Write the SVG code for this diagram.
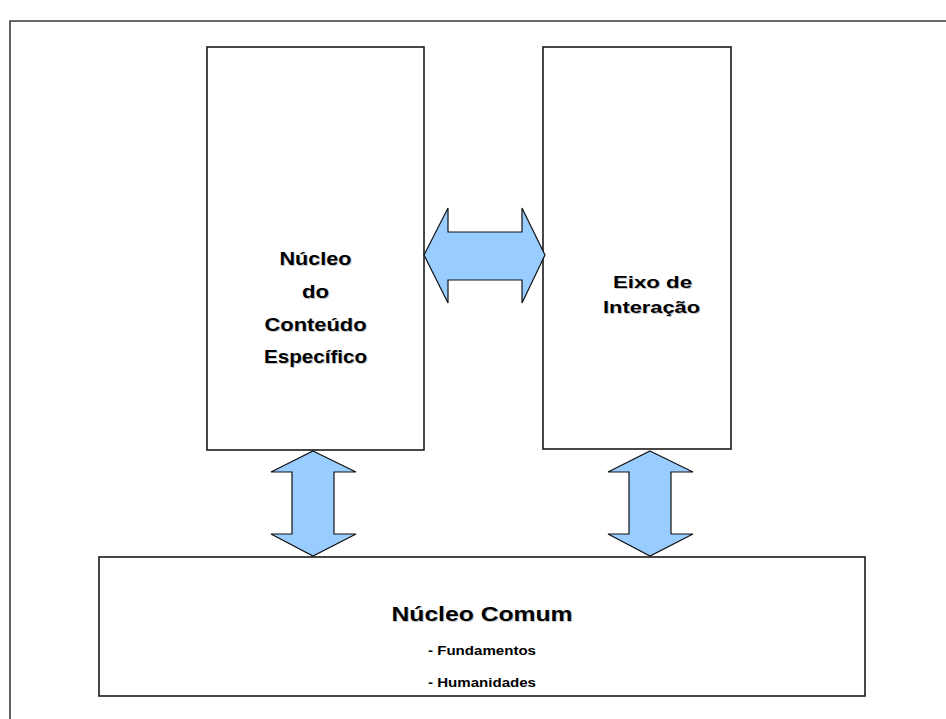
<svg xmlns="http://www.w3.org/2000/svg" width="946" height="719" viewBox="0 0 946 719">
  <style>
    .frame { fill: none; stroke: #3a3a3a; stroke-width: 1.6; }
    .box { fill: #ffffff; stroke: #1a1a1a; stroke-width: 1.6; }
    .arrow { fill: #99ccff; stroke: #111111; stroke-width: 1.2; stroke-linejoin: miter; }
    .lbl { font-family: "Liberation Sans", Arial, sans-serif; font-weight: bold; fill: #000000; text-anchor: middle; }
    .shadow { fill: #c4c4c4; }
  </style>
  <rect width="946" height="719" fill="#ffffff"/>

  <!-- page frame: only top and left edges fall inside the view -->
  <path class="frame" d="M 10 719 L 10 21 L 946 21"/>

  <g id="nucleo-especifico">
    <rect class="box" x="207" y="47" width="217" height="403"/>
    <g class="lbl" font-size="18">
      <text class="shadow" x="316.5" y="266" textLength="72" lengthAdjust="spacingAndGlyphs">Núcleo</text>
      <text x="315.5" y="265" textLength="72" lengthAdjust="spacingAndGlyphs">Núcleo</text>
      <text class="shadow" x="316.5" y="299" textLength="27" lengthAdjust="spacingAndGlyphs">do</text>
      <text x="315.5" y="298" textLength="27" lengthAdjust="spacingAndGlyphs">do</text>
      <text class="shadow" x="316.5" y="332" textLength="102" lengthAdjust="spacingAndGlyphs">Conteúdo</text>
      <text x="315.5" y="331" textLength="102" lengthAdjust="spacingAndGlyphs">Conteúdo</text>
      <text class="shadow" x="316.5" y="364" textLength="103" lengthAdjust="spacingAndGlyphs">Específico</text>
      <text x="315.5" y="363" textLength="103" lengthAdjust="spacingAndGlyphs">Específico</text>
    </g>
  </g>

  <g id="eixo-interacao">
    <rect class="box" x="543" y="47" width="188" height="402"/>
    <g class="lbl" font-size="16">
      <text class="shadow" x="653.5" y="289" textLength="79" lengthAdjust="spacingAndGlyphs">Eixo de</text>
      <text x="652.5" y="288" textLength="79" lengthAdjust="spacingAndGlyphs">Eixo de</text>
      <text class="shadow" x="652.5" y="314" textLength="97" lengthAdjust="spacingAndGlyphs">Interação</text>
      <text x="651.5" y="313" textLength="97" lengthAdjust="spacingAndGlyphs">Interação</text>
    </g>
  </g>

  <g id="nucleo-comum">
    <rect class="box" x="99" y="557" width="766" height="139"/>
    <g class="lbl">
      <text class="shadow" x="483" y="622" font-size="21" textLength="181" lengthAdjust="spacingAndGlyphs">Núcleo Comum</text>
      <text x="482" y="621" font-size="21" textLength="181" lengthAdjust="spacingAndGlyphs">Núcleo Comum</text>
      <text x="482" y="655" font-size="12" textLength="108" lengthAdjust="spacingAndGlyphs">- Fundamentos</text>
      <text x="482" y="687" font-size="12" textLength="108" lengthAdjust="spacingAndGlyphs">- Humanidades</text>
    </g>
  </g>

  <g id="connectors">
    <!-- horizontal double arrow between the two upper boxes -->
    <polygon class="arrow" points="424,255 448,208 448,232 522,232 522,208 545,255 522,303 522,280 448,280 448,303"/>
    <!-- vertical double arrow: left box to common core -->
    <polygon class="arrow" points="313,451 356,472 334,472 334,534 356,534 313,556 271,534 292,534 292,472 271,472"/>
    <!-- vertical double arrow: right box to common core -->
    <polygon class="arrow" points="650,451 693,472 671,472 671,534 693,534 650,556 608,534 629,534 629,472 608,472"/>
  </g>
</svg>
